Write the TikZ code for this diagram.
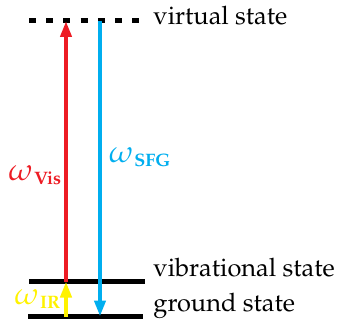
\documentclass[tikz,border=0pt]{standalone}
\usepackage[T1]{fontenc}
\usepackage{mathpazo}
\usetikzlibrary{arrows.meta, positioning}
\definecolor{cred}{HTML}{ED1C24}
\definecolor{cblue}{HTML}{00AEEF}
\definecolor{cyellow}{HTML}{FFF200}
\newcommand{\freqlab}[1]{{\fontsize{15.5}{18}\selectfont$\omega$}\kern0.5pt\raisebox{-2pt}{\fontsize{9}{10}\selectfont\bfseries #1}}
\tikzset{
  level/.style={line width=2.4pt},
  virt/.style={line width=2.5pt, dash pattern=on 3.5pt off 5.1pt},
  beam/.style={-{Triangle[length=8pt, width=5.5pt]}, line width=2pt, draw=#1},
  statename/.style={anchor=base west, inner sep=0pt, font=\fontsize{12.7}{14}\selectfont},
  freq/.style={text=#1, inner sep=0pt},
}
\begin{document}
\begin{tikzpicture}[x=0.5pt, y=-0.5pt]
  \useasboundingbox (0,0) rectangle (337,331);
  % levels
  \coordinate (virtL) at (29,21);   \coordinate (virtR) at (139,21);
  \coordinate (vibL) at (29,281.5); \coordinate (vibR) at (145,281.5);
  \coordinate (grdL) at (28,316.5); \coordinate (grdR) at (143,316.5);
  \draw[virt] (virtL) -- (virtR);
  \draw[level] (vibL) -- (vibR);
  \draw[level] (grdL) -- (grdR);
  \node[statename] (virtname) at (153,25) {virtual state};
  \node[statename] (vibname) at (153,277) {vibrational state};
  \node[statename] (grdname) at (153,311) {ground state};
  % transitions
  \coordinate (visTop) at (66,21);  \coordinate (visBot) at (66,281.5);
  \coordinate (sfgTop) at (100,21); \coordinate (sfgBot) at (100,316.5);
  \coordinate (irBot) at (66,316.5);
  \draw[beam=cred] (visBot) -- node[freq=cred, left=1.5pt, pos=0.41] {\freqlab{Vis}} (visTop);
  \draw[beam=cblue] (sfgTop) -- node[freq=cblue, right=3.5pt, pos=0.46] {\freqlab{SFG}} (sfgBot);
  \draw[beam=cyellow] (irBot) -- node[freq=cyellow, left=2pt, pos=0.5] {\freqlab{IR}} (visBot);
\end{tikzpicture}
\end{document}
